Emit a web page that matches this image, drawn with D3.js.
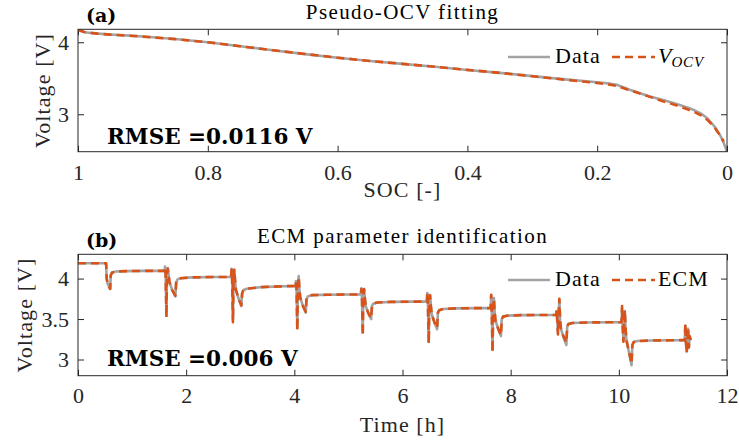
<!DOCTYPE html>
<html>
<head>
<meta charset="utf-8">
<script src="https://cdn.jsdelivr.net/npm/d3@7"></script>
<style>
  body { margin: 0; background: #fff; }
  svg { display: block; }
</style>
</head>
<body>
<svg id="chart" width="739" height="444"></svg>
<script>
// ---- Panel (a): pseudo-OCV curve against state of charge ----
const socData = [1, 0.995, 0.99, 0.98, 0.97, 0.95, 0.92, 0.9, 0.85, 0.8, 0.75, 0.7, 0.65, 0.6, 0.55, 0.5,
  0.45, 0.4, 0.35, 0.3, 0.25, 0.2, 0.18, 0.17, 0.15, 0.12, 0.1, 0.08, 0.06, 0.05, 0.04, 0.03, 0.02,
  0.015, 0.01, 0.005, 0];
const ocvData = [4.175, 4.155, 4.14, 4.128, 4.12, 4.108, 4.092, 4.08, 4.045, 4.0, 3.945, 3.89, 3.835, 3.785,
  3.74, 3.70, 3.66, 3.615, 3.575, 3.53, 3.485, 3.445, 3.425, 3.41, 3.34, 3.25, 3.2, 3.15, 3.09, 3.055,
  3.01, 2.94, 2.84, 2.77, 2.7, 2.6, 2.48];
const socFit = [1, 0.995, 0.99, 0.98, 0.97, 0.95, 0.92, 0.9, 0.85, 0.8, 0.75, 0.7, 0.65, 0.6, 0.55, 0.5,
  0.45, 0.4, 0.35, 0.3, 0.25, 0.2, 0.18, 0.17, 0.15, 0.12, 0.1, 0.08, 0.06, 0.05, 0.04, 0.03, 0.02,
  0.015, 0.01, 0.005];
const ocvFit = [4.17, 4.155, 4.142, 4.13, 4.12, 4.106, 4.09, 4.078, 4.043, 4.0, 3.945, 3.89, 3.837, 3.786,
  3.74, 3.70, 3.66, 3.617, 3.575, 3.528, 3.48, 3.435, 3.41, 3.395, 3.335, 3.245, 3.185, 3.13, 3.065,
  3.03, 2.985, 2.92, 2.83, 2.76, 2.7, 2.62];
const socTicks = [1, 0.8, 0.6, 0.4, 0.2, 0];
const ocvTicks = [3, 4];

// ---- Panel (b): pulse test, measured voltage and ECM output ----
const timeH = [
  0, 0.52, 0.53, 0.55, 0.58, 0.595, 0.605, 0.63, 0.7, 0.9, 1.2,
  1.60, 1.61, 1.62, 1.635, 1.645, 1.66, 1.675, 1.69, 1.74, 1.80, 1.815, 1.84, 1.9, 2.1, 2.5,
  2.83, 2.84, 2.85, 2.865, 2.875, 2.89, 2.905, 2.92, 2.97, 3.02, 3.035, 3.06, 3.12, 3.4, 3.8,
  4.02, 4.03, 4.04, 4.055, 4.065, 4.08, 4.095, 4.11, 4.16, 4.21, 4.225, 4.25, 4.32, 4.6, 5.0,
  5.23, 5.24, 5.25, 5.265, 5.275, 5.29, 5.305, 5.32, 5.37, 5.42, 5.435, 5.46, 5.53, 5.8, 6.2,
  6.45, 6.46, 6.47, 6.485, 6.495, 6.51, 6.525, 6.54, 6.59, 6.64, 6.655, 6.68, 6.75, 7.0, 7.4,
  7.63, 7.64, 7.65, 7.665, 7.675, 7.69, 7.705, 7.72, 7.77, 7.82, 7.835, 7.86, 7.93, 8.2, 8.6,
  8.84, 8.85, 8.86, 8.875, 8.885, 8.90, 8.915, 8.93, 8.98, 9.03, 9.045, 9.07, 9.14, 9.4, 9.8,
  10.05, 10.06, 10.07, 10.085, 10.095, 10.11, 10.125, 10.14, 10.19, 10.235, 10.25, 10.275, 10.34, 10.6, 11.0,
  11.22, 11.23, 11.24, 11.255, 11.265, 11.28, 11.295, 11.31, 11.33
];
const vMeasured = [
  4.19, 4.19, 4.0, 3.93, 3.89, 3.87, 4.04, 4.075, 4.087, 4.092, 4.095,
  4.095, 4.15, 4.07, 3.55, 4.05, 4.13, 4.05, 3.96, 3.86, 3.78, 3.95, 3.99, 4.005, 4.015, 4.02,
  4.02, 4.12, 3.99, 3.49, 3.98, 4.10, 3.97, 3.86, 3.75, 3.66, 3.82, 3.86, 3.875, 3.895, 3.905,
  3.91, 3.97, 3.88, 3.39, 3.87, 4.03, 3.86, 3.76, 3.66, 3.58, 3.74, 3.78, 3.795, 3.80, 3.803,
  3.803, 3.88, 3.77, 3.33, 3.76, 3.86, 3.75, 3.66, 3.57, 3.50, 3.66, 3.69, 3.705, 3.712, 3.715,
  3.715, 3.82, 3.69, 3.22, 3.68, 3.80, 3.66, 3.56, 3.46, 3.375, 3.58, 3.61, 3.625, 3.632, 3.635,
  3.635, 3.79, 3.60, 3.12, 3.59, 3.76, 3.58, 3.48, 3.38, 3.29, 3.50, 3.53, 3.542, 3.548, 3.55,
  3.55, 3.60, 3.50, 3.33, 3.52, 3.74, 3.48, 3.38, 3.27, 3.18, 3.41, 3.44, 3.452, 3.458, 3.46,
  3.46, 3.635, 3.42, 3.24, 3.44, 3.60, 3.38, 3.24, 3.08, 2.93, 3.18, 3.215, 3.228, 3.235, 3.238,
  3.24, 3.42, 3.22, 3.10, 3.20, 3.38, 3.15, 3.28, 3.24
];
const vEcm = [
  4.19, 4.19, 4.0, 3.93, 3.89, 3.875, 4.04, 4.075, 4.087, 4.092, 4.095,
  4.095, 4.14, 4.07, 3.52, 4.05, 4.12, 4.05, 3.96, 3.86, 3.79, 3.95, 3.99, 4.005, 4.015, 4.02,
  4.02, 4.11, 3.99, 3.46, 3.98, 4.11, 3.97, 3.86, 3.75, 3.67, 3.82, 3.86, 3.875, 3.895, 3.905,
  3.91, 3.96, 3.88, 3.36, 3.87, 4.02, 3.86, 3.76, 3.66, 3.59, 3.74, 3.78, 3.795, 3.80, 3.803,
  3.803, 3.87, 3.77, 3.30, 3.76, 3.87, 3.75, 3.66, 3.57, 3.51, 3.66, 3.69, 3.705, 3.712, 3.715,
  3.715, 3.83, 3.69, 3.20, 3.68, 3.79, 3.66, 3.56, 3.46, 3.39, 3.58, 3.61, 3.625, 3.632, 3.635,
  3.635, 3.80, 3.60, 3.09, 3.59, 3.75, 3.58, 3.48, 3.38, 3.30, 3.50, 3.53, 3.542, 3.548, 3.55,
  3.55, 3.61, 3.50, 3.31, 3.52, 3.75, 3.48, 3.38, 3.28, 3.21, 3.41, 3.44, 3.452, 3.458, 3.46,
  3.46, 3.66, 3.42, 3.22, 3.44, 3.61, 3.38, 3.24, 3.09, 2.95, 3.18, 3.215, 3.228, 3.235, 3.238,
  3.24, 3.44, 3.22, 3.08, 3.20, 3.39, 3.15, 3.29, 3.24
];
const timeTicks = [0, 2, 4, 6, 8, 10, 12];
const voltTicks = [3, 3.5, 4];

// ---- styling ----
const SERIF = "'Liberation Serif', 'Times New Roman', serif";
const BOLD = "'DejaVu Serif', serif";
const axisColor = "#262626";
const dataColor = "#a3a3a3";
const fitColor = "#D95319";

const svg = d3.select("#chart");

function drawPanel(p) {
  const g = svg.append("g");
  const x = p.x, y = p.y;
  const [x0, x1] = x.range();
  const [yb, yt] = y.range();

  const clipId = "clip-" + p.key;
  svg.append("defs").append("clipPath").attr("id", clipId)
    .append("rect").attr("x", x0).attr("y", yt).attr("width", x1 - x0).attr("height", yb - yt);

  const fmt = d => String(d);
  g.append("g").attr("transform", `translate(0,${yb})`)
    .call(d3.axisBottom(x).tickValues(p.xTicks).tickSize(-6).tickSizeOuter(0).tickPadding(p.xPad).tickFormat(fmt));
  g.append("g").attr("transform", `translate(0,${yt})`)
    .call(d3.axisTop(x).tickValues(p.xTicks).tickSize(-6).tickSizeOuter(0).tickFormat(""));
  g.append("g").attr("transform", `translate(${x0},0)`)
    .call(d3.axisLeft(y).tickValues(p.yTicks).tickSize(-6).tickSizeOuter(0).tickPadding(9).tickFormat(fmt));
  g.append("g").attr("transform", `translate(${x1},0)`)
    .call(d3.axisRight(y).tickValues(p.yTicks).tickSize(-6).tickSizeOuter(0).tickFormat(""));
  g.selectAll(".domain").remove();
  g.selectAll(".tick line").attr("stroke", axisColor).attr("stroke-width", 1);
  g.selectAll(".tick text").attr("fill", axisColor)
    .style("font-family", SERIF).style("font-size", "22px");

  // series
  const plot = g.append("g").attr("clip-path", `url(#${clipId})`);
  const line = d3.line().x(d => x(d[0])).y(d => y(d[1]));
  plot.append("path").datum(p.data)
    .attr("d", line).attr("fill", "none").attr("stroke", dataColor)
    .attr("stroke-width", 2.6).attr("stroke-linejoin", "round");
  plot.append("path").datum(p.fit)
    .attr("d", line).attr("fill", "none").attr("stroke", fitColor)
    .attr("stroke-width", 2.6).attr("stroke-dasharray", "8,5").attr("stroke-linejoin", "round");

  // box
  g.append("rect").attr("x", x0).attr("y", yt).attr("width", x1 - x0).attr("height", yb - yt)
    .attr("fill", "none").attr("stroke", axisColor).attr("stroke-width", 1);

  const txt = (tx, ty, s, extra) => {
    const t = g.append("text").attr("x", tx).attr("y", ty).text(s)
      .style("font-family", SERIF).style("font-size", "22px").style("letter-spacing", "1.1px")
      .attr("fill", "#000");
    if (extra) extra(t);
    return t;
  };
  const cx = (x0 + x1) / 2;
  txt(cx, p.titleY, p.title, t => t.attr("text-anchor", "middle")
    .style("font-size", "21px").style("letter-spacing", "1.4px"));
  txt(cx, p.xLabelY, p.xLabel, t => t.attr("text-anchor", "middle").attr("fill", axisColor));
  txt(0, 0, "Voltage [V]", t => t.attr("text-anchor", "middle").attr("fill", axisColor)
    .attr("transform", `translate(${p.yLabelX},${(yt + yb) / 2}) rotate(-90)`));

  g.append("text").attr("x", 86).attr("y", p.letterY).text(p.letter)
    .style("font-family", BOLD).style("font-weight", "bold").style("font-size", "19px");
  g.append("text").attr("x", 107).attr("y", p.rmseY).text(p.rmse)
    .style("font-family", BOLD).style("font-weight", "bold").style("font-size", "21.5px");

  // legend
  const ly = p.legendY;
  g.append("line").attr("x1", 508).attr("x2", 550).attr("y1", ly).attr("y2", ly)
    .attr("stroke", dataColor).attr("stroke-width", 2.6);
  txt(555, ly + 6, "Data");
  g.append("line").attr("x1", 612).attr("x2", 655).attr("y1", ly).attr("y2", ly)
    .attr("stroke", fitColor).attr("stroke-width", 2.6).attr("stroke-dasharray", "8,5");
  p.fitLabel(g, 658, ly + 6);
}

const xA = d3.scaleLinear().domain([1, 0]).range([78, 727]);
const yA = d3.scaleLinear().domain([2.48, 4.18]).range([151.7, 29.3]);
drawPanel({
  key: "a", x: xA, y: yA, xTicks: socTicks, yTicks: ocvTicks, xPad: 12.5,
  data: socData.map((s, i) => [s, ocvData[i]]),
  fit: socFit.map((s, i) => [s, ocvFit[i]]),
  title: "Pseudo-OCV fitting", titleY: 19, xLabel: "SOC [-]", xLabelY: 197, yLabelX: 50,
  letter: "(a)", letterY: 22, rmse: "RMSE =0.0116 V", rmseY: 144, legendY: 57,
  fitLabel: (g, lx, ly) => {
    const t = g.append("text").attr("x", lx).attr("y", ly)
      .style("font-family", SERIF).style("font-style", "italic").style("font-size", "22px");
    t.append("tspan").text("V");
    t.append("tspan").attr("dy", 4).style("font-size", "15px").style("letter-spacing", "0.8px").text("OCV");
  }
});

const xB = d3.scaleLinear().domain([0, 12]).range([78, 727]);
const yB = d3.scaleLinear().domain([2.8, 4.3]).range([375.7, 254.3]);
drawPanel({
  key: "b", x: xB, y: yB, xTicks: timeTicks, yTicks: voltTicks, xPad: 11.7,
  data: timeH.map((t, i) => [t, vMeasured[i]]),
  fit: timeH.map((t, i) => [t, vEcm[i]]),
  title: "ECM parameter identification", titleY: 243, xLabel: "Time [h]", xLabelY: 432, yLabelX: 32,
  letter: "(b)", letterY: 247, rmse: "RMSE =0.006 V", rmseY: 366, legendY: 280,
  fitLabel: (g, lx, ly) => {
    g.append("text").attr("x", lx).attr("y", ly).text("ECM")
      .style("font-family", SERIF).style("font-size", "22px").style("letter-spacing", "1.1px");
  }
});
</script>
</body>
</html>
